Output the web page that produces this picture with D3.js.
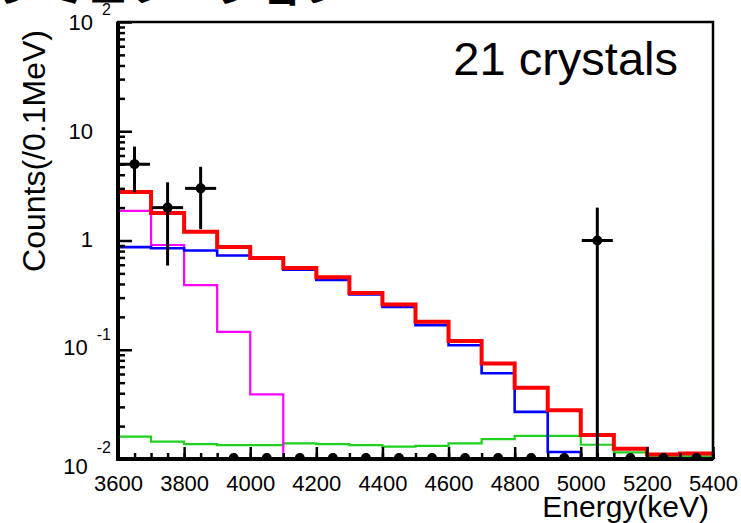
<!DOCTYPE html>
<html><head><meta charset="utf-8">
<script src="https://cdn.jsdelivr.net/npm/d3@7"></script>
<style>body{margin:0;background:#fff}svg{display:block}</style>
</head><body><svg id="c" width="741" height="523"></svg>
<script>
// ---------- data ----------
const binLow = [3600,3700,3800,3900,4000,4100,4200,4300,4400,4500,4600,4700,4800,4900,5000,5100,5200,5300];
const binWidth = 100;
const totalModel = [2.78,1.79,1.20,0.87,0.69,0.56,0.46,0.33,0.26,0.18,0.12,0.075,0.045,0.028,0.0166,0.0124,0.0110,0.0112];
const blueComponent = [0.87,0.85,0.81,0.73,0.68,0.54,0.435,0.32,0.246,0.168,0.11,0.061,0.027,0.0116,0,0,0,0];
const magentaComponent = [1.87,0.91,0.39,0.146,0.039,0,0,0,0,0,0,0,0,0,0,0,0,0];
const greenComponent = [0.016,0.0144,0.0137,0.0134,0.0134,0.0139,0.0137,0.0134,0.013,0.0132,0.0139,0.0152,0.0163,0.0163,0.0135,0.0115,0.0106,0.0106];
const greenNextBin = 1.0;
const dataCounts = [5,2,3,0,0,0,0,0,0,0,0,0,0,0,1,0,0,0];
const dataErrors = [2.24,1.41,1.73,0,0,0,0,0,0,0,0,0,0,0,1,0,0,0];
const xMajorTicks = [3600,3800,4000,4200,4400,4600,4800,5000,5200,5400];
const yDecades = [0.01,0.1,1,10,100];
const yTickBase = ["10","10","1","10","10"];
const yTickExp = ["-2","-1","","","2"];
const titleText = "シミュレーション";
const yTitle = "Counts(/0.1MeV)";
const xTitle = "Energy(keV)";
const boxLabel = "21 crystals";

// ---------- layout ----------
const L = 118, R = 713, T = 22, B = 459;
const svg = d3.select("#c");
const x = d3.scaleLinear().domain([3600,5400]).range([L,R]);
const y = d3.scaleLog().domain([0.01,100]).range([B,T]);
const yc = v => y(Math.max(v, 0.01));
const font = "'Liberation Sans', Arial, Helvetica, sans-serif";

svg.append("defs").append("clipPath").attr("id","clip")
  .append("rect").attr("x",L).attr("y",T).attr("width",R-L+3).attr("height",B-T);

// title (cut at top)
svg.append("text").attr("x",-2).attr("y",2)
  .attr("font-family","'Noto Sans CJK JP', sans-serif").attr("font-weight","bold")
  .attr("font-size",44).attr("fill","#000").text(titleText);

const g = svg.append("g").attr("clip-path","url(#clip)");

function stepPts(vals, extra){
  const pts = binLow.map((b,i)=>[b, vals[i]]);
  pts.push([binLow[binLow.length-1]+binWidth, vals[vals.length-1]]);
  if (extra !== undefined) pts.push([binLow[binLow.length-1]+binWidth, extra]);
  return pts;
}
const line = d3.line().x(d=>x(d[0])).y(d=>yc(d[1])).curve(d3.curveStepAfter);

g.append("path").attr("d", line(stepPts(greenComponent, greenNextBin)))
  .attr("fill","none").attr("stroke","#1fd11f").attr("stroke-width",2.2);
g.append("path").attr("d", line(stepPts(magentaComponent)))
  .attr("fill","none").attr("stroke","#ff00ff").attr("stroke-width",2.2);
g.append("path").attr("d", line(stepPts(blueComponent)))
  .attr("fill","none").attr("stroke","#0000ff").attr("stroke-width",2.6);
g.append("path").attr("d", line(stepPts(totalModel)))
  .attr("fill","none").attr("stroke","#ff0000").attr("stroke-width",4);

// data points
const pts = g.append("g");
binLow.forEach((b,i)=>{
  const cx = x(b + binWidth/2);
  const n = dataCounts[i];
  if (n > 0) {
    const e = dataErrors[i];
    pts.append("line").attr("x1",cx).attr("x2",cx)
      .attr("y1",yc(n+e)).attr("y2",yc(n-e))
      .attr("stroke","#000").attr("stroke-width",3);
    pts.append("line").attr("x1",x(b+binWidth*0.03)).attr("x2",x(b+binWidth*0.97))
      .attr("y1",yc(n)).attr("y2",yc(n))
      .attr("stroke","#000").attr("stroke-width",3);
  }
  pts.append("circle").attr("cx",cx).attr("cy",n>0?yc(n):B-1).attr("r",5).attr("fill","#000");
});

// axes: x
const xMinor = d3.range(3600,5401,50);
svg.append("g").attr("transform",`translate(0,${B})`)
  .call(d3.axisBottom(x).tickValues(xMinor).tickSize(-6).tickFormat(""))
  .call(a=>a.select(".domain").remove())
  .call(a=>a.selectAll("line").attr("stroke","#000").attr("stroke-width",2.5));
const xAx = svg.append("g").attr("transform",`translate(0,${B})`)
  .call(d3.axisBottom(x).tickValues(xMajorTicks).tickSize(-12).tickFormat(d3.format("d")))
  .call(a=>a.select(".domain").remove());
xAx.selectAll("line").attr("stroke","#000").attr("stroke-width",2.5);
xAx.selectAll("text").attr("y",24).attr("dy","0.35em")
  .attr("font-family",font).attr("font-size",22).attr("fill","#000");

// axes: y
const yMinor = [];
yDecades.slice(0,-1).forEach(d=>{ for(let k=2;k<=9;k++) yMinor.push(d*k); });
svg.append("g").attr("transform",`translate(${L},0)`)
  .call(d3.axisRight(y).tickValues(yMinor).tickSize(7).tickFormat(""))
  .call(a=>a.select(".domain").remove())
  .call(a=>a.selectAll("line").attr("stroke","#000").attr("stroke-width",2.5));
svg.append("g").attr("transform",`translate(${L},0)`)
  .call(d3.axisRight(y).tickValues(yDecades).tickSize(14).tickFormat(""))
  .call(a=>a.select(".domain").remove())
  .call(a=>a.selectAll("line").attr("stroke","#000").attr("stroke-width",2.5));

// y tick labels
yDecades.forEach((d,i)=>{
  let yy = y(d);
  let expOff = 13;
  if (i===0) { yy += 7; expOff = 19; }
  else if (i===1) { yy -= 3; }
  else if (i===2) { yy -= 1; }
  if (yTickExp[i] !== "") {
    const ex = svg.append("text").attr("x",111).attr("y",yy-expOff).attr("dy","0.36em")
      .attr("text-anchor","end").attr("font-family",font).attr("font-size",16)
      .attr("fill","#000").text(yTickExp[i]);
    const w = ex.node().getComputedTextLength();
    svg.append("text").attr("x",111-w-9).attr("y",yy).attr("dy","0.36em")
      .attr("text-anchor","end").attr("font-family",font).attr("font-size",22)
      .attr("fill","#000").text(yTickBase[i]);
  } else {
    svg.append("text").attr("x",93).attr("y",yy).attr("dy","0.36em")
      .attr("text-anchor","end").attr("font-family",font).attr("font-size",22)
      .attr("fill","#000").text(yTickBase[i]);
  }
});

// frame
svg.append("rect").attr("x",L).attr("y",T).attr("width",R-L).attr("height",B-T)
  .attr("fill","none").attr("stroke","#000").attr("stroke-width",2.5);
svg.append("line").attr("x1",L).attr("x2",L).attr("y1",T).attr("y2",B+1.5)
  .attr("stroke","#000").attr("stroke-width",4);
svg.append("line").attr("x1",L-1.5).attr("x2",R).attr("y1",B).attr("y2",B)
  .attr("stroke","#000").attr("stroke-width",4);

// titles
svg.append("text").attr("transform","translate(45,151) rotate(-90)")
  .attr("text-anchor","middle").attr("font-family",font).attr("font-size",32)
  .attr("fill","#000").text(yTitle);
svg.append("text").attr("x",709).attr("y",517).attr("text-anchor","end")
  .attr("font-family",font).attr("font-size",30).attr("fill","#000").text(xTitle);
svg.append("text").attr("x",678).attr("y",75).attr("text-anchor","end")
  .attr("font-family",font).attr("font-size",47).attr("fill","#000").text(boxLabel);
</script></body></html>
